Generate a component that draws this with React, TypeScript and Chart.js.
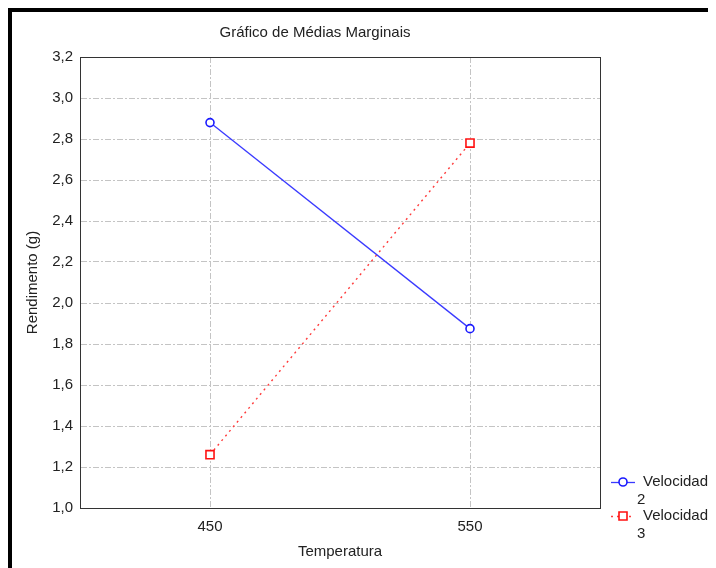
import React, { useEffect, useRef } from "react";
import { Chart, registerables } from "chart.js";

Chart.register(...registerables);

const TITLE = "Gráfico de Médias Marginais";
const X_TITLE = "Temperatura";
const Y_TITLE = "Rendimento (g)";
const categories = ["450", "550"];
const velocidade2 = [2.88, 1.875];
const velocidade3 = [1.26, 2.78];
const seriesNames = ["Velocidade 2", "Velocidade 3"];
const yMin = 1.0;
const yMax = 3.2;
const yStep = 0.2;

const FONT = "'Liberation Sans', Arial, sans-serif";
const FS = 15;

const framePlugin = {
  id: "frame",
  afterDraw(chart: any) {
    const { ctx, chartArea } = chart;
    ctx.save();
    ctx.strokeStyle = "#333";
    ctx.lineWidth = 1;
    ctx.setLineDash([]);
    ctx.strokeRect(
      Math.round(chartArea.left) + 0.5,
      Math.round(chartArea.top) + 0.5,
      Math.round(chartArea.width),
      Math.round(chartArea.height)
    );
    ctx.fillStyle = "#222";
    ctx.font = `${FS}px ${FONT}`;
    ctx.textAlign = "center";
    ctx.textBaseline = "middle";
    ctx.fillText(TITLE, chartArea.left + chartArea.width * 0.452, chartArea.top - 24);

    const items = chart.data.datasets;
    const x0 = chartArea.right + 11;
    const offsets = [-26, 8];
    items.forEach((ds: any, i: number) => {
      const y = chartArea.bottom + offsets[i];
      ctx.strokeStyle = ds.borderColor;
      ctx.lineWidth = 1.3;
      ctx.setLineDash(ds.borderDash || []);
      ctx.beginPath();
      ctx.moveTo(x0, y + 0.5);
      ctx.lineTo(x0 + 24, y + 0.5);
      ctx.stroke();
      ctx.setLineDash([]);
      ctx.fillStyle = "#fff";
      ctx.strokeStyle = ds.pointBorderColor;
      ctx.lineWidth = ds.pointBorderWidth;
      ctx.beginPath();
      if (ds.pointStyle === "rect") {
        ctx.rect(x0 + 12 - 4, y - 4, 8, 8);
      } else {
        ctx.arc(x0 + 12, y, 4, 0, Math.PI * 2);
      }
      ctx.fill();
      ctx.stroke();
      const words = String(ds.label).split(" ");
      ctx.fillStyle = "#222";
      ctx.font = `${FS}px ${FONT}`;
      ctx.textAlign = "left";
      ctx.textBaseline = "middle";
      ctx.fillText(words[0], x0 + 32, y);
      ctx.fillText(words.slice(1).join(" "), x0 + 26, y + 18);
    });
    ctx.restore();
  },
};

export default function App() {
  const ref = useRef<HTMLCanvasElement | null>(null);

  useEffect(() => {
    if (!ref.current) return;
    Chart.defaults.font.family = FONT;
    Chart.defaults.color = "#222";
    const chart = new Chart(ref.current, {
      type: "line",
      data: {
        labels: categories,
        datasets: [
          {
            label: seriesNames[0],
            data: velocidade2,
            borderColor: "#3a3aff",
            borderWidth: 1.3,
            pointStyle: "circle",
            pointRadius: 4,
            pointBackgroundColor: "#ffffff",
            pointBorderColor: "#1a1aff",
            pointBorderWidth: 1.6,
            tension: 0,
          },
          {
            label: seriesNames[1],
            data: velocidade3,
            borderColor: "#ff3c3c",
            borderWidth: 1.4,
            borderDash: [2, 4],
            pointStyle: "rect",
            pointRadius: 5.7,
            pointBackgroundColor: "#ffffff",
            pointBorderColor: "#ff1010",
            pointBorderWidth: 1.6,
            tension: 0,
          },
        ],
      },
      options: {
        animation: false,
        responsive: false,
        layout: { padding: { top: 45, right: 116, left: 0, bottom: 0 } },
        plugins: {
          legend: { display: false },
          title: { display: false },
          tooltip: { enabled: false },
        },
        scales: {
          x: {
            type: "category",
            offset: true,
            afterFit: (s: any) => {
              s.height = 60;
            },
            grid: {
              color: "#c4c4c4",
              drawTicks: false,
            },
            border: { color: "#333", dash: [6, 2, 2, 2] },
            ticks: { font: { size: FS }, padding: 10, color: "#222" },
            title: {
              display: true,
              text: X_TITLE,
              font: { size: FS },
              color: "#222",
              padding: { top: 0, bottom: 7 },
            },
          },
          y: {
            type: "linear",
            min: yMin,
            max: yMax,
            afterFit: (s: any) => {
              s.width = 68;
            },
            grid: {
              color: "#c4c4c4",
              drawTicks: false,
            },
            border: { color: "#333", dash: [6, 2, 2, 2] },
            ticks: {
              stepSize: yStep,
              font: { size: FS },
              padding: 7,
              color: "#222",
              callback: (v: any) => Number(v).toFixed(1).replace(".", ","),
            },
            title: {
              display: true,
              text: Y_TITLE,
              font: { size: FS },
              color: "#222",
              padding: { top: 12, bottom: 0 },
            },
          },
        },
      },
      plugins: [framePlugin],
    });
    return () => chart.destroy();
  }, []);

  return (
    <div
      style={{
        width: 704,
        height: 556,
        borderLeft: "4px solid #000",
        borderTop: "4px solid #000",
        background: "#fff",
      }}
    >
      <canvas ref={ref} width={704} height={556} style={{ display: "block" }} />
    </div>
  );
}
